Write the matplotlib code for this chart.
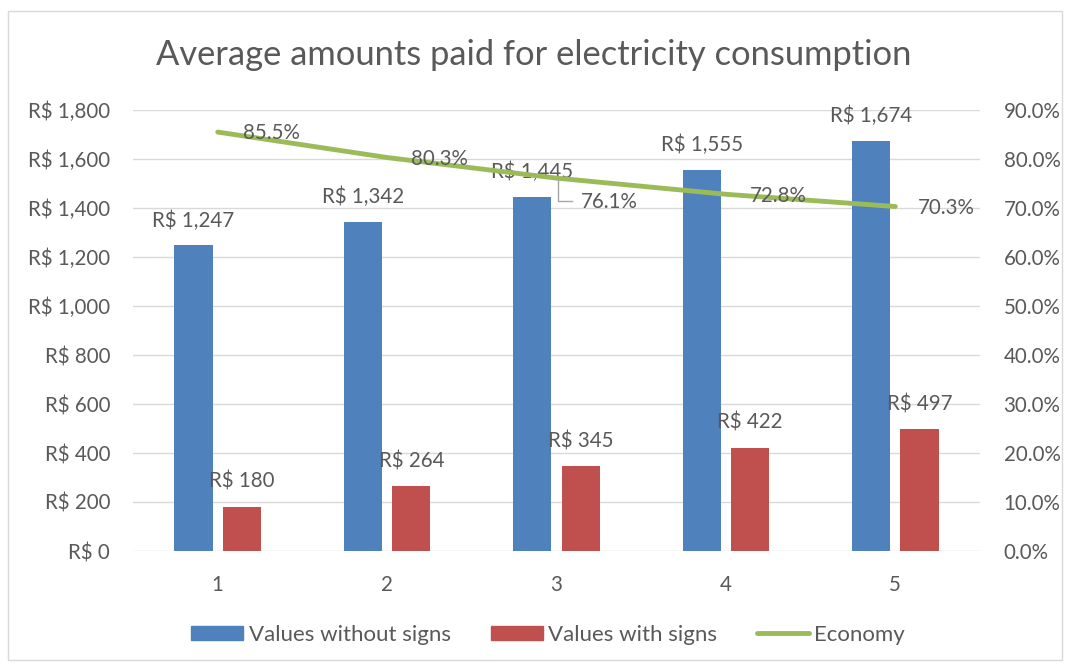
import matplotlib
matplotlib.use("Agg")
import matplotlib.pyplot as plt
from matplotlib.patches import Rectangle
from matplotlib.lines import Line2D
from matplotlib.ticker import FuncFormatter

categories = ["1", "2", "3", "4", "5"]
without_signs = [1247, 1342, 1445, 1555, 1674]
with_signs = [180, 264, 345, 422, 497]
economy = [85.5, 80.3, 76.1, 72.8, 70.3]

plt.rcParams['font.family'] = ['Lato', 'DejaVu Sans']
TXT = '#595959'
BLUE = '#4F81BD'
RED = '#C0504D'
GREEN = '#9BBB59'

fig = plt.figure(figsize=(10.67, 6.65), dpi=100)
fig.patches.append(Rectangle((8/1067, 1-660/665), 1054/1067, 649/665, transform=fig.transFigure,
                             fill=False, edgecolor='#D9D9D9', linewidth=1.0))
ax = fig.add_axes([133/1067, 1-551/665, 847/1067, 441/665])
ax2 = ax.twinx()

x = list(range(1, 6))
w = 0.225
off = 0.143
ax.bar([i - off for i in x], without_signs, width=w, color=BLUE, zorder=2)
ax.bar([i + off for i in x], with_signs, width=w, color=RED, zorder=2)
ax.set_ylim(0, 1800)
ax.set_xlim(0.5, 5.5)
ax.set_yticks(range(0, 1801, 200))
ax.yaxis.set_major_formatter(FuncFormatter(lambda v, p: f"R$ {int(v):,}"))
ax.set_xticks(x)
ax.set_xticklabels(categories)
ax.grid(axis='y', color='#D9D9D9', linewidth=1.0, zorder=0)
ax.set_axisbelow(True)
for s in ax.spines.values():
    s.set_visible(False)
for s in ax2.spines.values():
    s.set_visible(False)
ax.tick_params(axis='both', length=0, labelsize=14.8, labelcolor=TXT)
ax.tick_params(axis='y', pad=16.5)
ax.tick_params(axis='x', pad=17)

for i, v in zip(x, without_signs):
    ax.text(i - off, v + 102, f"R$ {v:,}", ha='center', va='center', fontsize=14.8, color=TXT, zorder=5)
for i, v in zip(x, with_signs):
    ax.text(i + off, v + 102, f"R$ {v:,}", ha='center', va='center', fontsize=14.8, color=TXT, zorder=5)

ax2.plot(x, economy, color=GREEN, linewidth=3.5, solid_capstyle='round', zorder=3)
ax2.set_ylim(0, 90)
ax2.set_yticks(range(0, 91, 10))
ax2.yaxis.set_major_formatter(FuncFormatter(lambda v, p: f"{v:.1f}%"))
ax2.tick_params(axis='y', length=0, labelsize=14.8, labelcolor=TXT, pad=17)

# economy labels (offsets in category units / percentage points)
lab_pos = [(0.32, -0.2), (0.31, -0.3), (0.31, -4.9), (0.31, -0.4), (0.30, -0.3)]
for i, v, (dx, dy) in zip(x, economy, lab_pos):
    ax2.text(i + dx, v + dy, f"{v:.1f}%", ha='center', va='center', fontsize=14.8, color=TXT, zorder=6)
# leader line for label 3
ax2.plot([3.006, 3.006, 3.09], [75.7, 71.4, 71.4], color='#A6A6A6', linewidth=1.0, zorder=4)

handles = [Rectangle((0, 0), 1, 1, color=BLUE), Rectangle((0, 0), 1, 1, color=RED),
           Line2D([0], [0], color=GREEN, linewidth=3.5, solid_capstyle='round')]
fig.legend(handles, ["Values without signs", "Values with signs", "Economy"],
           loc='center', bbox_to_anchor=(548/1067, 1-635/665), ncol=3, frameon=False,
           fontsize=16, labelcolor=TXT, handlelength=2.34, handleheight=0.63,
           columnspacing=1.8, handletextpad=0.23)

fig.text(0.5, 1-55/665, "Average amounts paid for electricity consumption", ha='center', va='center',
         fontsize=24.8, color=TXT)

fig.savefig("out.png", dpi=100)
